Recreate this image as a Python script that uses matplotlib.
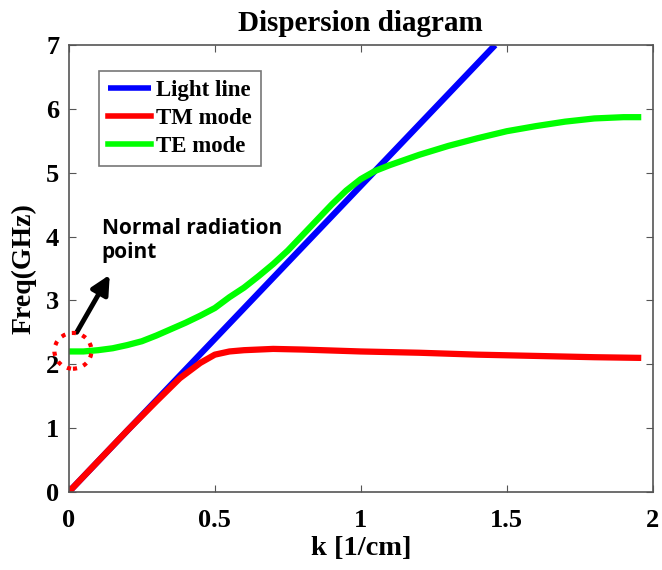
import numpy as np
import matplotlib
matplotlib.use("Agg")
import matplotlib.pyplot as plt
from matplotlib.patches import Ellipse

# data
k_light = [0.0, 1.46]
f_light = [0.0, 7.0]

k_tm = [0.0, 0.1, 0.2, 0.3, 0.38, 0.45, 0.5, 0.55, 0.6, 0.7, 0.8, 1.0, 1.2, 1.4, 1.6, 1.8, 1.95]
f_tm = [0.0, 0.48, 0.96, 1.42, 1.78, 2.02, 2.15, 2.2, 2.22, 2.24, 2.23, 2.2, 2.18, 2.15, 2.13, 2.11, 2.1]

k_te = [0.0, 0.05, 0.1, 0.15, 0.2, 0.25, 0.3, 0.35, 0.4, 0.45, 0.5, 0.55, 0.6, 0.65, 0.7, 0.75,
        0.8, 0.85, 0.9, 0.95, 1.0, 1.05, 1.1, 1.2, 1.3, 1.4, 1.5, 1.6, 1.7, 1.8, 1.9, 1.95]
f_te = [2.2, 2.2, 2.22, 2.25, 2.3, 2.36, 2.45, 2.55, 2.65, 2.76, 2.88, 3.05, 3.2, 3.38, 3.57, 3.78,
        4.02, 4.26, 4.5, 4.72, 4.9, 5.03, 5.12, 5.28, 5.42, 5.54, 5.65, 5.73, 5.8, 5.85, 5.87, 5.87]

plt.rcParams['font.family'] = ['Liberation Serif', 'DejaVu Serif']
plt.rcParams['font.weight'] = 'bold'

fig = plt.figure(figsize=(6.62, 5.70), dpi=100)
ax = fig.add_axes([0.104, 0.137, 0.882, 0.784])

ax.plot(k_light, f_light, color='#0000ff', lw=4.5, label='Light line', solid_capstyle='butt')
ax.plot(k_tm, f_tm, color='#ff0000', lw=4.5, label='TM mode')
ax.plot(k_te, f_te, color='#00ff00', lw=4.5, label='TE mode')

ax.set_xlim(0, 2)
ax.set_ylim(0, 7)
ax.set_xticks([0, 0.5, 1, 1.5, 2])
ax.set_xticklabels(['0', '0.5', '1', '1.5', '2'])
ax.set_yticks(range(8))
ax.tick_params(direction='in', top=True, right=True, labelsize=19, length=5,
               color='#555555', pad=7)
ax.tick_params(axis='x', pad=12)
for s in ax.spines.values():
    s.set_color('#555555')
    s.set_linewidth(1.2)

ax.set_title('Dispersion diagram', fontsize=21, fontweight='bold', pad=10)
ax.set_xlabel('k [1/cm]', fontsize=20.5, fontweight='bold', labelpad=3)
ax.set_ylabel('Freq(GHz)', fontsize=20, fontweight='bold', labelpad=7)

leg = ax.legend(loc='upper left', bbox_to_anchor=(0.051, 0.942), fontsize=16.5,
                frameon=True, fancybox=False, handlelength=1.9, handletextpad=0.2,
                borderpad=0.4, labelspacing=0.3, borderaxespad=0)
leg.get_frame().set_edgecolor('#555555')
leg.get_frame().set_linewidth(1.2)
for line in leg.get_lines():
    line.set_linewidth(4)

# normal radiation point marker
circ = Ellipse((0.014, 2.21), 0.127, 0.56, fill=False, edgecolor='red', lw=3,
               linestyle=(0, (1.0, 1.6)), clip_on=False, zorder=5)
ax.add_patch(circ)
ax.annotate('', xy=(0.14, 3.4), xytext=(0.027, 2.5),
            arrowprops=dict(arrowstyle='-|>', color='black', lw=3.5, mutation_scale=28,
                            shrinkA=0, shrinkB=0))
ax.text(0.113, 3.67, 'Normal radiation\npoint', fontsize=15, fontweight='bold',
        family=['Open Sans', 'DejaVu Sans'], ha='left', va='baseline', linespacing=1.15)

fig.savefig('out.png', dpi=100)
